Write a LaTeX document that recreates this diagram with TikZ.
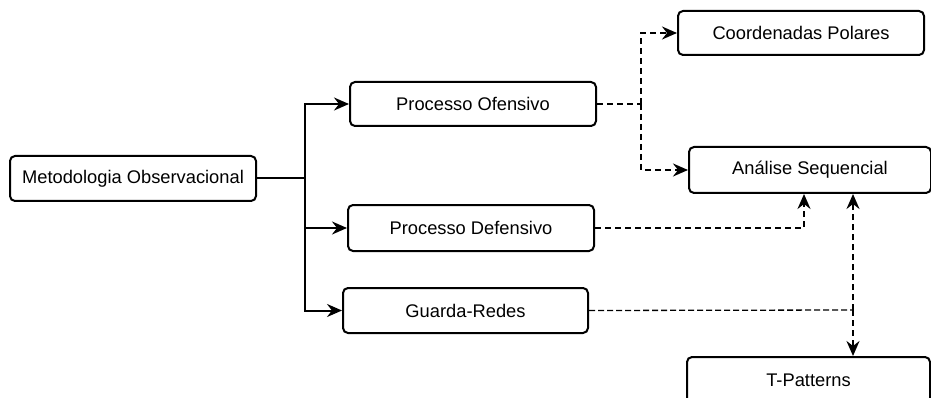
\documentclass[tikz,border=0pt]{standalone}
\usepackage{fontspec}
\setmainfont{Liberation Sans}
\usetikzlibrary{arrows.meta}
\begin{document}
\begin{tikzpicture}[x=1pt,y=-1pt,
  box/.style={draw, line width=2pt, rounded corners=5pt, minimum height=45pt,
    inner sep=0pt, font=\fontsize{18.3}{22}\selectfont},
  tip/.style={-{Stealth[length=15pt,width=13pt,inset=5pt]}},
  conn/.style={line width=2pt, tip},
  link/.style={line width=2pt},
  dconn/.style={line width=2pt, dash pattern=on 6pt off 4pt, tip},
  dlink/.style={line width=2pt, dash pattern=on 6pt off 4pt},
  thinlink/.style={line width=1.3pt, dash pattern=on 6pt off 3pt}]
\useasboundingbox (0,0) rectangle (931,398);

% boxes
\node[box, minimum width=246pt] (meto) at (133,178.5) {Metodologia Observacional};
\node[box, minimum width=246pt, minimum height=44pt] (ofen) at (473,104) {Processo Ofensivo};
\node[box, minimum width=246pt, minimum height=46pt] (defe) at (471,228) {Processo Defensivo};
\node[box, minimum width=245pt] (guar) at (465.5,310.5) {Guarda-Redes};
\node[box, minimum width=246pt, minimum height=44pt] (coor) at (801,33) {Coordenadas Polares};
\node[box, minimum width=242pt, minimum height=46pt] (anal) at (810,170) {Análise Sequencial};
\node[box, minimum width=243pt, minimum height=46pt] (tpat) at (808.5,380) {T-Patterns};

% solid tree from the root
\coordinate (j) at (305,178.5);
\draw[link] (meto.east) -- (j);
\draw[conn] (j) |- (ofen.west);
\draw[conn] (j) |- (defe.west);
\draw[conn] (j) |- (guar.west);

% dashed links from the offensive process
\coordinate (k) at (641,104);
\draw[dlink] (ofen.east) -- (k);
\draw[dconn] (k) |- (coor.west);
\draw[dconn] (k) |- (anal.west);

% dashed link from the defensive process
\draw[dconn] (defe.east) -| ([xshift=-6pt]anal.south);

% goalkeeper link and the two-way link between the analyses
\coordinate (g) at (853,310);
\draw[thinlink] (guar.east) -- (g);
\draw[dconn] (g) -- (anal.south -| g);
\draw[dconn] (g) -- (tpat.north -| g);
\end{tikzpicture}
\end{document}
